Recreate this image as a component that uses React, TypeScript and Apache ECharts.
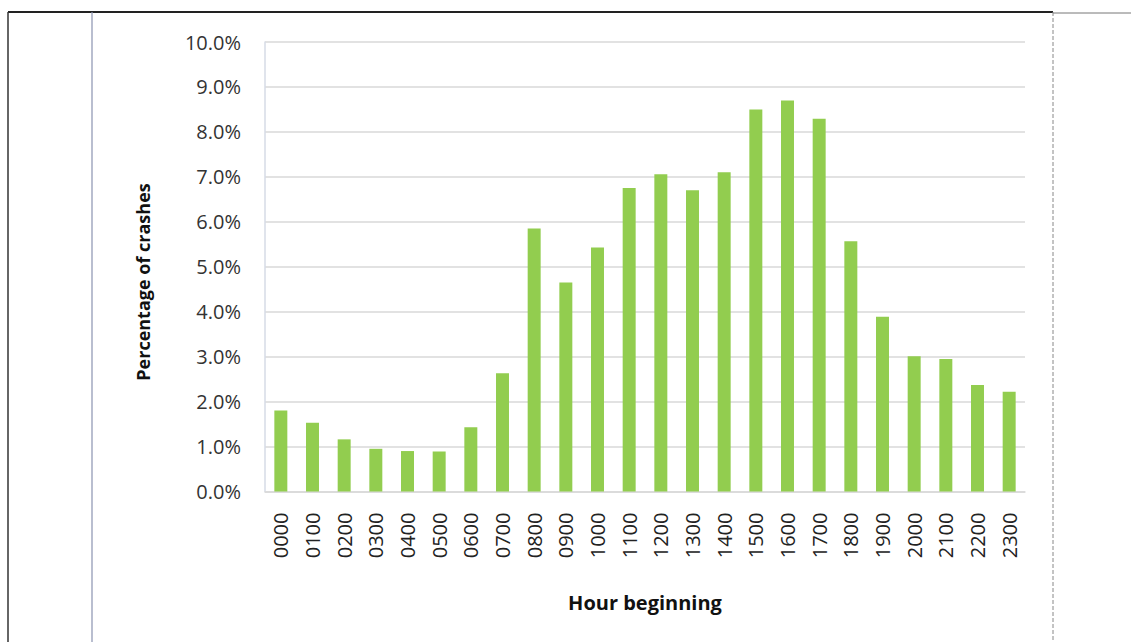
import React, { useEffect, useRef } from "react";
import * as echarts from "echarts";

const hours = [
  "0000", "0100", "0200", "0300", "0400", "0500", "0600", "0700",
  "0800", "0900", "1000", "1100", "1200", "1300", "1400", "1500",
  "1600", "1700", "1800", "1900", "2000", "2100", "2200", "2300",
];
const crashPct = [
  1.8, 1.53, 1.16, 0.95, 0.9, 0.89, 1.43, 2.63,
  5.85, 4.65, 5.43, 6.75, 7.06, 6.7, 7.1, 8.5,
  8.7, 8.29, 5.57, 3.89, 3.01, 2.95, 2.37, 2.22,
];
const yTitle = "Percentage of crashes";
const xTitle = "Hour beginning";

export default function App() {
  const ref = useRef<HTMLDivElement>(null);
  useEffect(() => {
    if (!ref.current) return;
    const chart = echarts.init(ref.current, undefined, { renderer: "svg" });
    const font = "'Open Sans', 'Liberation Sans', sans-serif";
    chart.setOption({
      animation: false,
      backgroundColor: "#ffffff",
      grid: { left: 265, right: 106, top: 42, bottom: 150.5 },
      xAxis: {
        type: "category",
        data: hours,
        axisLine: { show: true, lineStyle: { color: "#d9d9d9", width: 1.5 } },
        axisTick: { show: false },
        axisLabel: {
          rotate: 90,
          margin: 21,
          fontSize: 20,
          color: "#222",
          fontFamily: font,
          interval: 0,
        },
        name: xTitle,
        nameLocation: "middle",
        nameGap: 101,
        nameTextStyle: { fontSize: 20, fontWeight: "bold", color: "#111", fontFamily: font },
      },
      yAxis: {
        type: "value",
        min: 0,
        max: 10,
        interval: 1,
        axisLine: { show: true, lineStyle: { color: "#d6dbe6", width: 1.5 } },
        axisTick: { show: false },
        splitLine: { lineStyle: { color: "#d9d9d9", width: 1.5 } },
        axisLabel: {
          formatter: (v: number) => v.toFixed(1) + "%",
          fontSize: 20,
          color: "#333",
          margin: 24,
          fontFamily: font,
        },
      },
      series: [
        {
          type: "bar",
          data: crashPct,
          barWidth: "41%",
          itemStyle: { color: "#92cd4f" },
        },
      ],
      graphic: [
        {
          type: "text",
          x: 143,
          y: 282,
          rotation: Math.PI / 2,
          style: {
            text: yTitle,
            fontSize: 18,
            fontWeight: "bold",
            fill: "#111",
            fontFamily: font,
            align: "center",
            verticalAlign: "middle",
          },
        },
        { type: "line", shape: { x1: 8, y1: 12, x2: 1053, y2: 12 }, style: { stroke: "#222", lineWidth: 2 } },
        { type: "line", shape: { x1: 1053, y1: 13, x2: 1131, y2: 13 }, style: { stroke: "#777", lineWidth: 1 } },
        { type: "line", shape: { x1: 8, y1: 12, x2: 8, y2: 642 }, style: { stroke: "#333", lineWidth: 1.5 } },
        { type: "line", shape: { x1: 92, y1: 12, x2: 92, y2: 642 }, style: { stroke: "#8a93b0", lineWidth: 1.2 } },
        { type: "line", shape: { x1: 1053, y1: 12, x2: 1053, y2: 642 }, style: { stroke: "#888", lineWidth: 1, lineDash: [4, 2] } },
      ],
    });
    return () => chart.dispose();
  }, []);
  return (
    <div
      ref={ref}
      style={{ position: "fixed", left: 0, top: 0, width: 1131, height: 642 }}
    />
  );
}
